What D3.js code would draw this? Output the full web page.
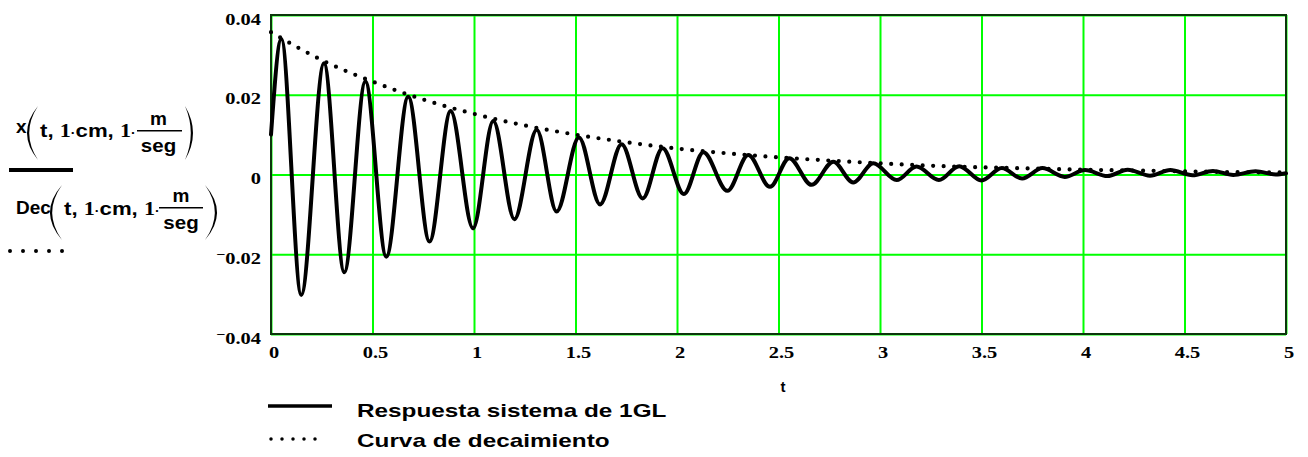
<!DOCTYPE html>
<html>
<head>
<meta charset="utf-8">
<script src="https://cdn.jsdelivr.net/npm/d3@7"></script>
<style>
  html, body { margin: 0; padding: 0; background: #ffffff; }
  svg { display: block; }
  .sans { font-family: "Liberation Sans", Arial, sans-serif; font-weight: bold; }
  .serif { font-family: "Liberation Serif", "Times New Roman", serif; font-weight: bold; }
</style>
</head>
<body>
<svg id="chart" width="1308" height="457"></svg>
<script>
// ---------------- data ----------------
// Response x(t): extrema of the oscillation (t in s, x in m)
const respT = [0.000, 0.051, 0.149, 0.261, 0.361, 0.465, 0.568, 0.676, 0.781, 0.885,
               0.995, 1.095, 1.199, 1.309, 1.407, 1.517, 1.621, 1.727, 1.831, 1.929,
               2.034, 2.130, 2.248, 2.351, 2.458, 2.553, 2.663, 2.770, 2.868, 2.967,
               3.082, 3.180, 3.290, 3.390, 3.500, 3.600, 3.700, 3.800, 3.910, 4.010,
               4.120, 4.220, 4.330, 4.430, 4.540, 4.640, 4.740, 4.850, 4.950, 5.000];
const respX = [0.0100, 0.0340, -0.0302, 0.0279, -0.0245, 0.0233, -0.0206, 0.0195, -0.0168, 0.0159,
               -0.0135, 0.0134, -0.0112, 0.0112, -0.0093, 0.0093, -0.0075, 0.0076, -0.0060, 0.0066,
               -0.0049, 0.0056, -0.0041, 0.0049, -0.0031, 0.0041, -0.0026, 0.0032, -0.0020, 0.0028,
               -0.0014, 0.0020, -0.0014, 0.0021, -0.0015, 0.0016, -0.0010, 0.0016, -0.0006, 0.0011,
               -0.0004, 0.0012, -0.0003, 0.0011, -0.0002, 0.0009, -0.0001, 0.0008, 0.0000, 0.0003];

// Decay envelope Dec(t)
const decT = [0, 0.25, 0.5, 0.75, 1.0, 1.25, 1.5, 1.75, 2.0, 2.25, 2.5,
              2.75, 3.0, 3.25, 3.5, 3.75, 4.0, 4.25, 4.5, 4.75, 5.0];
const decX = [0.0357, 0.0287, 0.0233, 0.0188, 0.0152, 0.0123, 0.0100, 0.0081, 0.0065, 0.0053, 0.0043,
              0.0035, 0.0028, 0.0022, 0.0018, 0.0015, 0.0012, 0.0010, 0.0008, 0.0006, 0.0005];

const xTicks = [0, 0.5, 1, 1.5, 2, 2.5, 3, 3.5, 4, 4.5, 5];
const xTickLabels = ["0", "0.5", "1", "1.5", "2", "2.5", "3", "3.5", "4", "4.5", "5"];
const yTicks = [-0.04, -0.02, 0, 0.02, 0.04];
const yTickLabels = ["-0.04", "-0.02", "0", "0.02", "0.04"];

const xTitle = "t";
const legendNames = ["Respuesta sistema de 1GL", "Curva de decaimiento"];

// ---------------- layout ----------------
const L = 271, R = 1286, T = 15, B = 334;
const svg = d3.select("#chart");

const x = d3.scaleLinear().domain([0, 5]).range([L, R]);
const y = d3.scaleLinear().domain([-0.04, 0.04]).range([B, T]);

const GREEN = "#00ff00";

// grid via axes
const gx = svg.append("g").attr("transform", `translate(0,${B})`)
  .call(d3.axisBottom(x).tickValues(xTicks).tickSize(-(B - T)).tickFormat(""));
const gy = svg.append("g").attr("transform", `translate(${L},0)`)
  .call(d3.axisLeft(y).tickValues(yTicks).tickSize(-(R - L)).tickFormat(""));
[gx, gy].forEach(g => {
  g.select(".domain").remove();
  g.selectAll(".tick line").attr("stroke", GREEN).attr("stroke-width", 2);
});

// frame
svg.append("rect").attr("x", L).attr("y", T).attr("width", R - L).attr("height", B - T)
  .attr("fill", "none").attr("stroke", "#0c360c").attr("stroke-width", 2);

// tick labels
yTicks.forEach((v, i) => {
  const lab = yTickLabels[i];
  const t = svg.append("text").attr("class", "serif").attr("font-size", 16.5)
    .attr("text-anchor", "end")
    .attr("transform", `translate(261,${y(v) + 9.5}) scale(1.24,1)`);
  if (lab.startsWith("-")) {
    t.append("tspan").attr("font-size", 13).attr("dy", -4.5).text("\u2212");
    t.append("tspan").attr("dy", 4.5).text(lab.slice(1));
  } else {
    t.text(lab);
  }
});
xTicks.forEach((v, i) => {
  svg.append("text").attr("class", "serif").attr("font-size", 16.5)
    .attr("text-anchor", "middle")
    .attr("transform", `translate(${x(v) + 3},358) scale(1.24,1)`)
    .text(xTickLabels[i]);
});
svg.append("text").attr("class", "sans").attr("font-size", 15)
  .attr("text-anchor", "middle").attr("x", 783).attr("y", 392).text(xTitle);

// curves
const respData = respT.map((t, i) => [t, respX[i]]);
const decData = decT.map((t, i) => [t, decX[i]]);
const line = d3.line().x(d => x(d[0])).y(d => y(d[1])).curve(d3.curveMonotoneX);

svg.append("path").datum(decData).attr("d", line)
  .attr("fill", "none").attr("stroke", "#000").attr("stroke-width", 4.2)
  .attr("stroke-linecap", "round").attr("stroke-dasharray", "0 10.5");

svg.append("path").datum(respData).attr("d", line)
  .attr("fill", "none").attr("stroke", "#000").attr("stroke-width", 4)
  .attr("stroke-linejoin", "round").attr("stroke-linecap", "round");

// ---------------- left Mathcad-style label ----------------
function paren(a, b, top, bot, th) {
  const mid = (top + bot) / 2;
  const s = a < b ? 1 : -1;
  return `M${b},${top} Q${2 * a - b},${mid} ${b},${bot} Q${2 * (a + s * th) - b},${mid} ${b},${top} Z`;
}
function exprRow(fn, fnX, baseFn, argX, baseArg, lp, rp, pTop, pBot, fr) {
  svg.append("text").attr("class", "sans").attr("font-size", 19)
    .attr("x", fnX).attr("y", baseFn).text(fn);
  svg.append("path").attr("d", paren(lp[0], lp[1], pTop, pBot, 2.2)).attr("fill", "#000");
  svg.append("path").attr("d", paren(rp[0], rp[1], pTop, pBot, 2.2)).attr("fill", "#000");
  const t = svg.append("text").attr("class", "sans").attr("font-size", 19)
    .attr("transform", `translate(${argX},${baseArg}) scale(1.17,1)`);
  t.append("tspan").text("t, ");
  t.append("tspan").attr("class", "serif").text("1");
  t.append("tspan").attr("font-size", 12).text("\u00b7");
  t.append("tspan").text("cm, ");
  t.append("tspan").attr("class", "serif").text("1");
  t.append("tspan").attr("font-size", 12).text("\u00b7");
  // fraction m / seg
  svg.append("text").attr("class", "sans").attr("font-size", 19).attr("text-anchor", "middle")
    .attr("x", fr.cx).attr("y", fr.bar - 5.7).text("m");
  svg.append("line").attr("x1", fr.x1).attr("x2", fr.x2).attr("y1", fr.bar).attr("y2", fr.bar)
    .attr("stroke", "#000").attr("stroke-width", 1.5);
  svg.append("text").attr("class", "sans").attr("font-size", 19).attr("text-anchor", "middle")
    .attr("transform", `translate(${fr.cx},${fr.bar + 21}) scale(1.08,1)`).text("seg");
}
exprRow("x", 16, 133, 40, 136.5, [27, 38], [193, 185], 106, 160,
        {cx: 158.5, bar: 130.7, x1: 137, x2: 182});
svg.append("line").attr("x1", 9).attr("x2", 73).attr("y1", 170).attr("y2", 170)
  .attr("stroke", "#000").attr("stroke-width", 4);
exprRow("Dec", 16, 214, 64, 215, [50, 62], [217, 205], 185, 240,
        {cx: 181, bar: 207.7, x1: 159, x2: 203});
svg.append("line").attr("x1", 10).attr("x2", 63).attr("y1", 251).attr("y2", 251)
  .attr("stroke", "#000").attr("stroke-width", 4).attr("stroke-linecap", "round")
  .attr("stroke-dasharray", "0 13");

// ---------------- bottom legend ----------------
svg.append("line").attr("x1", 268).attr("x2", 332).attr("y1", 406).attr("y2", 406)
  .attr("stroke", "#000").attr("stroke-width", 3.5);
svg.append("line").attr("x1", 271).attr("x2", 316).attr("y1", 439).attr("y2", 439)
  .attr("stroke", "#000").attr("stroke-width", 3.5).attr("stroke-linecap", "round")
  .attr("stroke-dasharray", "0 11");
svg.append("text").attr("class", "sans").attr("font-size", 19)
  .attr("transform", "translate(357,417) scale(1.28,1)").text(legendNames[0]);
svg.append("text").attr("class", "sans").attr("font-size", 19)
  .attr("transform", "translate(357,447) scale(1.28,1)").text(legendNames[1]);
</script>
</body>
</html>
